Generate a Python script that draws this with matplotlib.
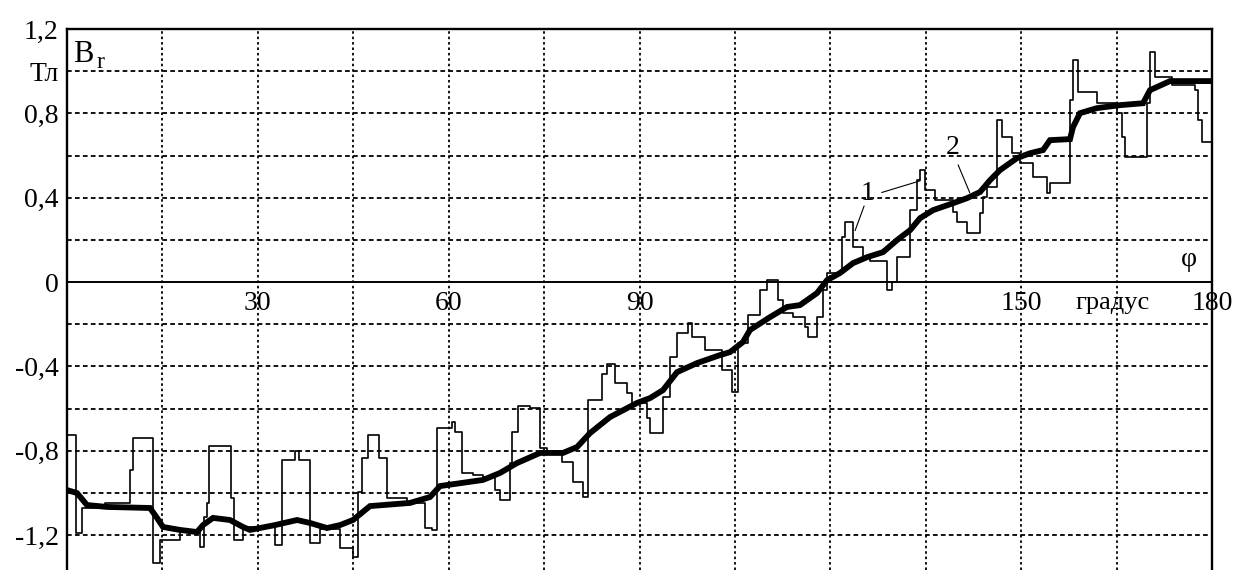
import matplotlib
matplotlib.use('Agg')
import matplotlib.pyplot as plt

plt.rcParams['font.family'] = ['Liberation Serif', 'DejaVu Serif']

# ---- data (angle in degrees, induction in T) ----
# curve 1: thin stepped curve (value holds until next angle)
phi1 = [0.0, 1.41, 2.36, 5.97, 9.90, 10.38, 13.52, 14.62, 17.76, 20.91, 21.54, 22.01,
        22.32, 25.78, 26.25, 27.67, 32.70, 33.80, 35.84, 36.47, 38.20, 39.77, 42.92,
        44.96, 45.75, 46.38, 47.32, 49.05, 50.31, 53.45, 56.29, 57.38, 58.17, 60.52,
        61.0, 62.1, 63.83, 65.4, 67.29, 68.07, 69.64, 69.96, 70.9, 72.79, 74.36, 75.46,
        77.82, 79.55, 81.12, 81.91, 84.11, 84.89, 86.15, 88.04, 88.82, 91.18, 91.65,
        93.7, 94.8, 95.9, 97.63, 98.26, 100.3, 102.97, 104.54, 105.49, 107.06, 108.95,
        110.05, 111.78, 112.56, 114.13, 116.02, 116.49, 117.91, 118.85, 119.48, 121.84,
        122.31, 123.57, 125.14, 126.24, 128.91, 129.7, 130.48, 132.53, 133.63, 134.1,
        134.88, 136.46, 139.29, 139.92, 141.49, 143.53, 144.0, 144.63, 146.2, 146.99,
        148.56, 149.82, 151.86, 154.06, 154.53, 157.68, 158.15, 158.94, 161.93, 165.07,
        165.86, 166.33, 169.78, 170.25, 171.04, 173.71, 177.33, 177.8, 178.43, 180.0]
b1 = [-0.725, -1.19, -1.071, -1.047, -0.891, -0.739, -1.332, -1.223, -1.175, -1.256, -1.114, -1.047,
      -0.777, -1.024, -1.223, -1.161, -1.246, -0.844, -0.801, -0.844, -1.237, -1.17, -1.26,
      -1.303, -0.995, -0.834, -0.725, -0.834, -1.024, -1.047, -1.166, -1.175, -0.692, -0.664,
      -0.711, -0.905, -0.915, -0.924, -0.986, -1.033, -0.858, -0.711, -0.588, -0.597, -0.787, -0.806,
      -0.853, -0.948, -1.019, -0.559, -0.436, -0.389, -0.479, -0.526, -0.573, -0.645, -0.716,
      -0.545, -0.355, -0.242, -0.194, -0.261, -0.322, -0.417, -0.521, -0.289, -0.156, -0.038,
      0.009, -0.085, -0.147, -0.166, -0.213, -0.261, -0.166, -0.038, 0.043, 0.213,
      0.284, 0.166, 0.118, 0.1, -0.038, 0.0, 0.118, 0.341, 0.483, 0.531,
      0.436, 0.389, 0.33, 0.284, 0.232, 0.327, 0.403, 0.45, 0.768, 0.687,
      0.611, 0.564, 0.498, 0.422, 0.469, 0.863, 1.052, 0.9, 0.848, 0.801,
      0.687, 0.592, 0.848, 1.09, 0.972, 0.934, 0.91, 0.768, 0.664, 0.664]

# curve 2: thick averaged curve
phi2 = [0, 1.57, 3.14, 6.29, 13.05, 14.15, 15.09, 17.76, 20.44, 21.38, 22.95, 25.62, 27.67,
        28.77, 32.7, 36.16, 38.2, 40.87, 42.92, 44.96, 47.63, 53.92, 57.07, 58.64, 65.4,
        68.07, 70.74, 74.36, 77.97, 80.18, 82.22, 85.36, 89.61, 91.65, 93.7, 95.9, 99.04,
        102.66, 104.23, 106.27, 107.37, 110.52, 113.19, 115.23, 117.91, 119.48, 121.52,
        123.57, 125.77, 128.28, 130.48, 132.53, 134.1, 136.14, 139.29, 141.49, 143.53,
        145.1, 146.67, 149.35, 151.39, 153.44, 154.53, 157.68, 158.15, 159.25, 161.93,
        165.54, 169.16, 170.25, 173.4, 180]
b2 = [-0.986, -1.0, -1.057, -1.066, -1.071, -1.118, -1.161, -1.175, -1.185, -1.152, -1.118, -1.128, -1.161,
      -1.175, -1.152, -1.128, -1.142, -1.166, -1.152, -1.128, -1.062, -1.047, -1.019, -0.967, -0.938,
      -0.905, -0.858, -0.81, -0.81, -0.782, -0.716, -0.64, -0.573, -0.55, -0.512, -0.427, -0.384,
      -0.346, -0.332, -0.284, -0.227, -0.166, -0.118, -0.109, -0.052, 0.009, 0.043,
      0.09, 0.118, 0.142, 0.199, 0.246, 0.303, 0.341, 0.374, 0.398, 0.427,
      0.483, 0.531, 0.588, 0.611, 0.626, 0.673, 0.678, 0.735, 0.801, 0.825,
      0.839, 0.848, 0.91, 0.953, 0.953]

ytick_vals = [1.2, 1.0, 0.8, 0.4, 0.0, -0.4, -0.8, -1.2]
ytick_labels = ['1,2', 'Тл', '0,8', '0,4', '0', '-0,4', '-0,8', '-1,2']
xlabel_vals = [30, 60, 90, 150, 180]
xlabel_texts = ['30', '60', '90', '150', '180']

# ---- figure ----
fig = plt.figure(figsize=(12.41, 5.70), dpi=100)
fig.patch.set_facecolor('white')
ax = fig.add_axes([67 / 1241, 0.0, (1212 - 67) / 1241, (570 - 29) / 570])
ax.set_xlim(0, 180)
ax.set_ylim(-1.365, 1.2)

for xv in range(15, 180, 15):
    ax.axvline(xv, color='black', lw=1.3, ls=(0, (1.4, 1.6)), zorder=1)
for yv in [-1.2, -1.0, -0.8, -0.6, -0.4, -0.2, 0.2, 0.4, 0.6, 0.8, 1.0]:
    ax.axhline(yv, color='black', lw=1.3, ls=(0, (2.6, 1.8)), zorder=1)
ax.axhline(0, color='black', lw=1.4, zorder=2)

ax.plot(phi1, b1, drawstyle='steps-post', color='black', lw=1.2, zorder=3)
ax.plot(phi2, b2, color='black', lw=4.2, zorder=4, solid_joinstyle='miter')

for s in ['left', 'top', 'right']:
    ax.spines[s].set_linewidth(1.7)
ax.spines['bottom'].set_visible(False)

ax.set_xticks([])
ax.set_yticks(ytick_vals)
ax.set_yticklabels(ytick_labels)
ax.tick_params(axis='y', length=0, pad=6, labelsize=20)

for xv, t in zip(xlabel_vals, xlabel_texts):
    ax.text(xv, -0.1, t, ha='center', va='center', fontsize=20, clip_on=False)
ax.text(164.3, -0.1, 'градус', ha='center', va='center', fontsize=19)
ax.text(176.3, 0.105, 'φ', ha='center', va='center', fontsize=20)
ax.text(0.9, 1.08, 'B', ha='left', va='center', fontsize=22)
ax.text(4.6, 1.04, 'r', ha='left', va='center', fontsize=17)

# labels of curves with leader lines
ax.text(125.8, 0.42, '1', ha='center', va='center', fontsize=20)
ax.plot([125.3, 123.9], [0.36, 0.245], color='black', lw=0.8)
ax.plot([128.1, 134.1], [0.425, 0.48], color='black', lw=0.8)
ax.text(139.3, 0.64, '2', ha='center', va='center', fontsize=20)
ax.plot([140.1, 141.9], [0.555, 0.425], color='black', lw=0.8)

fig.savefig('out.png', dpi=100, facecolor='white')
